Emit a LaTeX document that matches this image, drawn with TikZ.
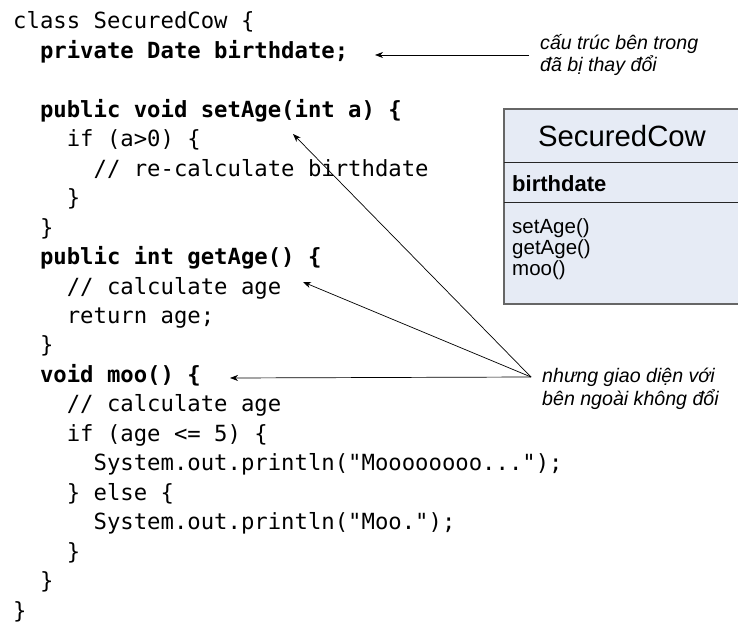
\documentclass[tikz,border=0pt]{standalone}
\usepackage{fontspec}
\setmainfont{Liberation Sans}
\setmonofont{DejaVu Sans Mono}
\usetikzlibrary{arrows.meta}

\definecolor{boxfill}{RGB}{230,235,245}

\begin{document}
\begin{tikzpicture}[x=1pt, y=-1pt,
    code/.style={anchor=base west, inner sep=0pt, font=\ttfamily\fontsize{22.26}{29.45}\selectfont},
    bcode/.style={code, font=\ttfamily\bfseries\fontsize{22.26}{29.45}\selectfont},
    note/.style={anchor=west, inner sep=0pt, align=left, font=\itshape\fontsize{19.6}{22.5}\selectfont},
    pointer/.style={-{Stealth[length=8pt, width=6pt, inset=2.5pt]}, line width=0.7pt}]
    \useasboundingbox (0, 0) rectangle (738, 628);

    % the code
    \node[code]  (head)    at (13, 29)       {class SecuredCow \{};
    \node[bcode] (field)   at (39.8, 58.45)  {private Date birthdate;};
    \node[bcode] (setage)  at (39.8, 117.35) {public void setAge(int a) \{};
    \node[code]  (ifa)     at (66.6, 146.8)  {if (a>0) \{};
    \node[code]  (recalc)  at (93.4, 176.25) {// re-calculate birthdate};
    \node[code]  (endif)   at (66.6, 205.7)  {\}};
    \node[code]  (endset)  at (39.8, 235.15) {\}};
    \node[bcode] (getage)  at (39.8, 264.6)  {public int getAge() \{};
    \node[code]  (calca)   at (66.6, 294.05) {// calculate age};
    \node[code]  (ret)     at (66.6, 323.5)  {return age;};
    \node[code]  (endget)  at (39.8, 352.95) {\}};
    \node[bcode] (moo)     at (39.8, 382.4)  {void moo() \{};
    \node[code]  (calcb)   at (66.6, 411.85) {// calculate age};
    \node[code]  (ifage)   at (66.6, 441.3)  {if (age <= 5) \{};
    \node[code]  (printl)  at (93.4, 470.75) {System.out.println("Moooooooo...");};
    \node[code]  (else)    at (66.6, 500.2)  {\} else \{};
    \node[code]  (prints)  at (93.4, 529.65) {System.out.println("Moo.");};
    \node[code]  (endelse) at (66.6, 559.1)  {\}};
    \node[code]  (endmoo)  at (39.8, 588.55) {\}};
    \node[code]  (endcls)  at (13, 618)      {\}};

    % class box
    \draw[fill=boxfill, draw=black!60, line width=1.2pt] (504, 109) rectangle (742, 304);
    \draw[black!85, line width=1pt] (504, 163) -- (742, 163);
    \draw[black!85, line width=1pt] (504, 203) -- (742, 203);
    \node[font=\fontsize{29.3}{31}\selectfont] (cname) at (622, 136) {SecuredCow};
    \node[anchor=west, inner sep=0pt, font=\bfseries\fontsize{22}{24}\selectfont] (attr) at (512, 184) {birthdate};
    \node[anchor=north west, inner sep=0pt, align=left, font=\fontsize{20.5}{21}\selectfont] (ops) at (512, 218) {setAge()\\getAge()\\moo()};

    % notes
    \node[note] (inside)  at (540, 55)  {cấu trúc bên trong\\đã bị thay đổi};
    \node[note] (outside) at (542, 389) {nhưng giao diện với\\bên ngoài không đổi};

    \coordinate (fieldtip) at (375, 55);
    \coordinate (settip)   at (293, 134);
    \coordinate (gettip)   at (303, 282);
    \coordinate (mootip)   at (230, 378);
    \coordinate (pin) at ([xshift=-11pt, yshift=12pt]outside.west);

    \draw[pointer, shorten <=11pt] (inside.west) -- (fieldtip);
    \draw[pointer] (pin) -- (settip);
    \draw[pointer] (pin) -- (gettip);
    \draw[pointer] (pin) -- (mootip);
\end{tikzpicture}
\end{document}
